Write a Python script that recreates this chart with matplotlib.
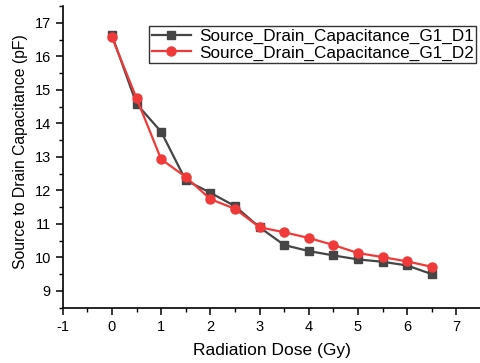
import matplotlib
matplotlib.use("Agg")
import matplotlib.pyplot as plt
from matplotlib.ticker import MultipleLocator

dose = [0, 0.5, 1, 1.5, 2, 2.5, 3, 3.5, 4, 4.5, 5, 5.5, 6, 6.5]
cap_d1 = [16.63, 14.58, 13.75, 12.30, 11.93, 11.53, 10.90, 10.37, 10.19, 10.06, 9.94, 9.87, 9.76, 9.50]
cap_d2 = [16.57, 14.75, 12.93, 12.40, 11.74, 11.45, 10.90, 10.75, 10.58, 10.37, 10.13, 10.01, 9.88, 9.72]
labels = ["Source_Drain_Capacitance_G1_D1", "Source_Drain_Capacitance_G1_D2"]

plt.rcParams['font.family'] = ['Liberation Sans', 'DejaVu Sans']
plt.rcParams['axes.unicode_minus'] = False

fig = plt.figure(figsize=(4.81, 3.63), dpi=100)
ax = fig.add_axes([62.7/481, 1 - 307.7/363, (481 - 62.7)/481, (307.7 - 6)/363])

ax.plot(dose, cap_d1, color='#454545', marker='s', markersize=6, linewidth=1.6, label=labels[0])
ax.plot(dose, cap_d2, color='#f03a3a', marker='o', markersize=6.5, linewidth=1.6, label=labels[1])

ax.set_xlim(-1, 7.5)
ax.set_ylim(8.5, 17.5)
ax.xaxis.set_major_locator(MultipleLocator(1))
ax.xaxis.set_minor_locator(MultipleLocator(0.5))
ax.yaxis.set_major_locator(MultipleLocator(1))
ax.yaxis.set_minor_locator(MultipleLocator(0.5))
ax.spines['top'].set_visible(False)
ax.spines['right'].set_visible(False)
for s in ['left', 'bottom']:
    ax.spines[s].set_linewidth(1.2)
ax.tick_params(which='major', direction='out', length=5, width=1.1, labelsize=10.5)
ax.tick_params(which='minor', direction='out', length=3, width=1.0)

ax.set_xlabel("Radiation Dose (Gy)", fontsize=12.5, labelpad=7)
ax.set_ylabel("Source to Drain Capacitance (pF)", fontsize=11.3)
ax.yaxis.set_label_coords(-0.082, 0.5 + 5/301.7)

leg = ax.legend(loc='upper right', bbox_to_anchor=(476/481, 1 - 26/363),
                bbox_transform=fig.transFigure, fontsize=12.3,
                frameon=True, fancybox=False, edgecolor='black', borderpad=0.15,
                handlelength=2.3, labelspacing=0.1, borderaxespad=0, handletextpad=0.45)
leg.get_frame().set_linewidth(1.0)

fig.savefig("out.png", dpi=100)
